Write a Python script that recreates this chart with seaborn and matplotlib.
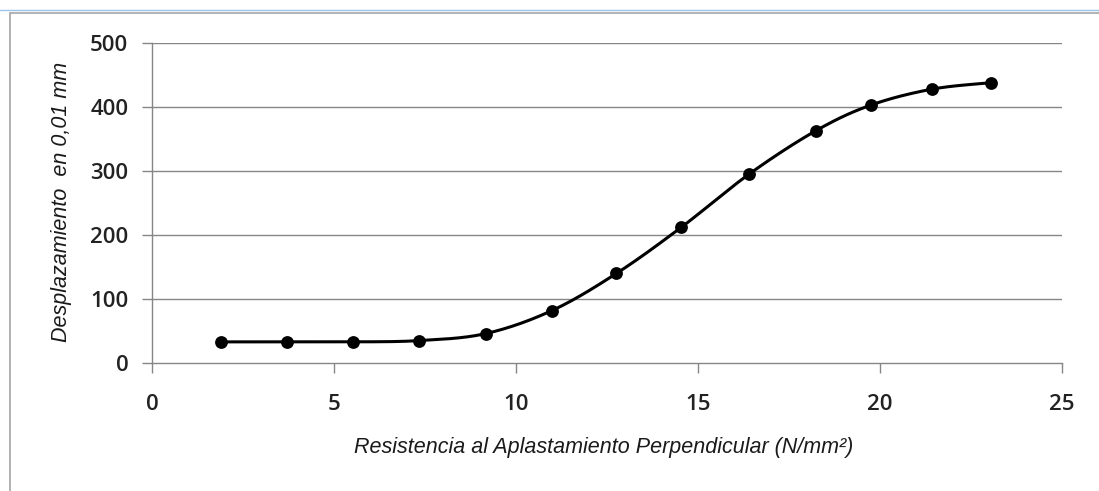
import numpy as np
import pandas as pd
import matplotlib
matplotlib.use("Agg")
import matplotlib.pyplot as plt
import seaborn as sns
from matplotlib.patches import Rectangle
from matplotlib.lines import Line2D

# values
resistencia = [1.9, 3.7, 5.53, 7.34, 9.17, 10.99, 12.76, 14.54, 16.40, 18.24, 19.75, 21.44, 23.06]
desplazamiento = [33, 33, 33, 35, 46, 82, 140, 212, 295, 363, 403, 428, 438]
x_ticks = [0, 5, 10, 15, 20, 25]
y_ticks = [0, 100, 200, 300, 400, 500]

df = pd.DataFrame({"x": resistencia, "y": desplazamiento})


# excel-style smoothed line (catmull-rom through the data points)
def smooth_line(xs, ys, n=30):
    p = np.column_stack([xs, ys]).astype(float)
    p = np.vstack([p[0], p, p[-1]])
    out = []
    for i in range(1, len(p) - 2):
        p0, p1, p2, p3 = p[i - 1], p[i], p[i + 1], p[i + 2]
        t = np.linspace(0, 1, n, endpoint=False)[:, None]
        seg = 0.5 * ((2 * p1) + (-p0 + p2) * t + (2 * p0 - 5 * p1 + 4 * p2 - p3) * t ** 2
                     + (-p0 + 3 * p1 - 3 * p2 + p3) * t ** 3)
        out.append(seg)
    out.append(p[-2][None, :])
    out = np.vstack(out)
    return pd.DataFrame({"x": out[:, 0], "y": out[:, 1]})


curve = smooth_line(resistencia, desplazamiento)

sns.set_style("white")
fig = plt.figure(figsize=(10.99, 4.91), dpi=100)
ax = fig.add_axes([152 / 1099, 1 - 363 / 491, 910 / 1099, 320 / 491])

# outer frame like the spreadsheet chart area
fig.add_artist(Line2D([0, 1], [1 - 10 / 491, 1 - 10 / 491], transform=fig.transFigure,
                      color="#9dc3e6", lw=1.0))
fig.add_artist(Rectangle((10 / 1099, -0.05), 1.1, 1 - 13 / 491 + 0.05, transform=fig.transFigure,
                         fill=False, edgecolor="#a6a6a6", lw=1.2))

grid_col = "#868686"
for v in y_ticks[1:]:
    ax.axhline(v, color=grid_col, lw=1.0, zorder=1)

sns.lineplot(data=curve, x="x", y="y", color="black", lw=2.2, sort=False,
             estimator=None, ax=ax, zorder=3)
sns.scatterplot(data=df, x="x", y="y", color="black", s=85, edgecolor="black",
                linewidth=0, ax=ax, zorder=4)

ax.set_xlim(0, 25)
ax.set_ylim(0, 500)
ax.set_xticks(x_ticks)
ax.set_yticks(y_ticks)

for side in ["top", "right"]:
    ax.spines[side].set_visible(False)
for side in ["left", "bottom"]:
    ax.spines[side].set_color(grid_col)
    ax.spines[side].set_linewidth(1.0)

tick_font = {"family": ["Open Sans", "DejaVu Sans"], "size": 16, "weight": "semibold"}
ax.tick_params(axis="y", direction="out", length=7, width=1, color=grid_col, pad=10, left=True)
ax.tick_params(axis="x", direction="out", length=7, width=1, color=grid_col, pad=15, bottom=True)
ax.set_xticklabels([str(t) for t in x_ticks], fontdict=tick_font, color="#222222")
ax.set_yticklabels([str(t) for t in y_ticks], fontdict=tick_font, color="#222222")

label_font = {"family": "Liberation Sans", "style": "italic", "size": 15.5}
ax.set_xlabel("Resistencia al Aplastamiento Perpendicular (N/mm²)", fontdict=label_font,
              color="#1a1a1a")
ax.set_ylabel("Desplazamiento  en 0,01 mm", fontdict=label_font, color="#1a1a1a")
ax.xaxis.set_label_coords(604 / 1099, 1 - 437 / 491, transform=fig.transFigure)
ax.yaxis.set_label_coords(72 / 1099, 1 - 202 / 491, transform=fig.transFigure)

fig.savefig("out.png", dpi=100)
